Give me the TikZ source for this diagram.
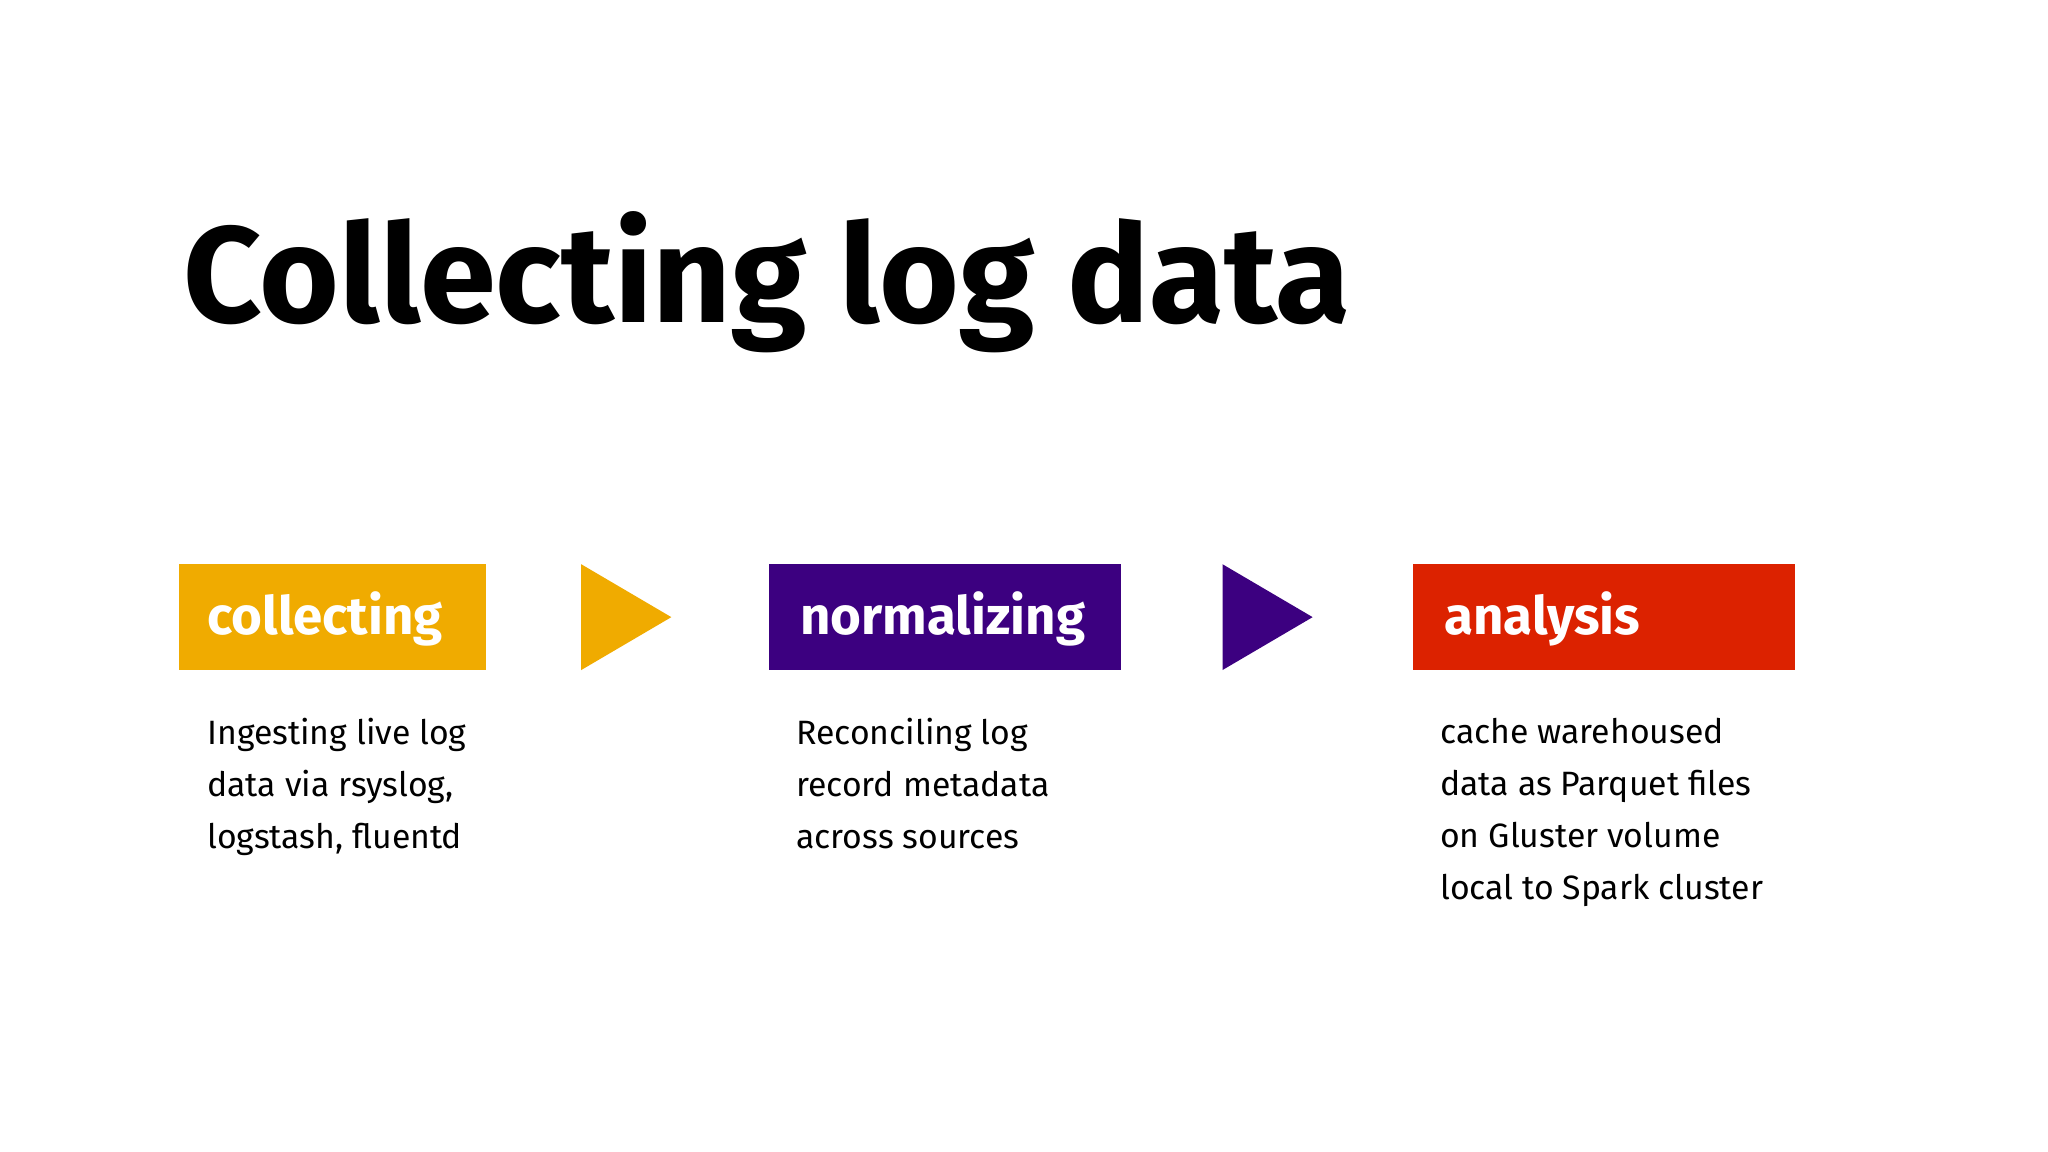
\documentclass[tikz,border=0pt]{standalone}
\usepackage{fontspec}
\setmainfont{Fira Sans}
\definecolor{cyel}{HTML}{F0AB00}
\definecolor{cpur}{HTML}{3C0080}
\definecolor{cred}{HTML}{DC2200}
\begin{document}
\begin{tikzpicture}[x=0.01cm,y=-0.01cm,
  lbl/.style={anchor=base west,inner sep=0pt,text=white,font=\bfseries\fontsize{11.5}{14}\selectfont},
  body/.style={anchor=north west,inner sep=0pt,font=\fontsize{7.35}{11.35}\selectfont,align=left}]
\useasboundingbox (0,0) rectangle (1568,882);
\fill[white] (0,0) rectangle (1568,882);
\node[anchor=base west,inner sep=0pt,font=\bfseries\fontsize{29.8}{34}\selectfont] (title) at (140,247) {Collecting log data};
\fill[cyel] (137,432) rectangle (372,513);
\fill[cpur] (589,432) rectangle (858,513);
\fill[cred] (1082,432) rectangle (1374,513);
\fill[cyel] (445,432) -- (514,472.5) -- (445,513) -- cycle;
\fill[cpur] (936,432) -- (1005,472.5) -- (936,513) -- cycle;
\node[lbl] (l1) at (158,486) {collecting};
\node[lbl] (l2) at (612,486) {normalizing};
\node[lbl] (l3) at (1105,486) {analysis};
\node[body] (t1) at (158,549) {Ingesting live log\\data via rsyslog,\\logstash, fluentd};
\node[body] (t2) at (609,549) {Reconciling log\\record metadata\\across sources};
\node[body] (t3) at (1102,549) {cache warehoused\\data as Parquet files\\on Gluster volume\\local to Spark cluster};
\end{tikzpicture}
\end{document}
